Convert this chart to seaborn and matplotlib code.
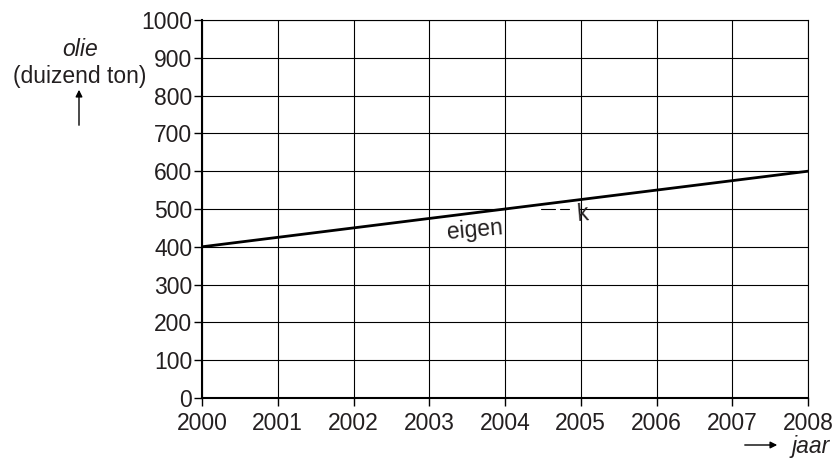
import matplotlib.pyplot as plt
import seaborn as sns
import pandas as pd
from matplotlib.patches import Rectangle

# data
jaren = [2000, 2008]
eigen_verbruik = [400, 600]
x_ticks = list(range(2000, 2009))
y_ticks = list(range(0, 1001, 100))

df = pd.DataFrame({"jaar": jaren, "olie": eigen_verbruik})

sns.set_style("white")
plt.rcParams["font.family"] = ["Liberation Sans", "DejaVu Sans"]

fig = plt.figure(figsize=(8.34, 4.61), dpi=100)
ax = fig.add_axes([202 / 834, 1 - 398 / 461, 606 / 834, 378 / 461])

sns.lineplot(data=df, x="jaar", y="olie", ax=ax, color="black", lw=2, zorder=5)

ax.set_xlim(2000, 2008)
ax.set_ylim(0, 1000)
ax.set_xticks(x_ticks)
ax.set_yticks(y_ticks)
ax.grid(True, color="black", lw=0.8)
ax.set_axisbelow(True)
for s in ax.spines.values():
    s.set_color("black")
    s.set_linewidth(0.8)
ax.spines["left"].set_linewidth(1.5)
ax.spines["bottom"].set_linewidth(1.5)
ax.tick_params(axis="both", direction="out", length=6, width=1, color="black",
               labelsize=16.5, labelcolor="#231f20")
ax.tick_params(axis="y", left=True, pad=1)
ax.tick_params(axis="x", bottom=True, pad=4)
ax.set_xlabel("")
ax.set_ylabel("")

# label with erased middle part
ax.add_patch(Rectangle((2004.03, 490), 0.95, 20, facecolor="white", edgecolor="none", zorder=2))
ax.plot([2004.48, 2004.66], [500, 500], color="black", lw=0.8, zorder=3)
ax.plot([2004.72, 2004.84], [500, 500], color="black", lw=0.8, zorder=3)
ax.text(2003.6, 445, "eigen", fontsize=16.5, rotation=5, ha="center", va="center",
        color="#231f20", zorder=6)
ax.text(2005.03, 487, "k", fontsize=16.5, rotation=5, ha="center", va="center",
        color="#231f20", zorder=6)

# axis titles
fig.text(80 / 834, 1 - 50 / 461, "olie", fontsize=16.5, style="italic", ha="center",
         va="center", color="#231f20")
fig.text(80 / 834, 1 - 77 / 461, "(duizend ton)", fontsize=16.5, ha="center",
         va="center", color="#231f20")
ax.annotate("", xy=(79 / 834, 1 - 87 / 461), xytext=(79 / 834, 1 - 128 / 461),
            xycoords="figure fraction", textcoords="figure fraction",
            arrowprops=dict(arrowstyle="-|>", color="black", lw=1, mutation_scale=10))
fig.text(830 / 834, 1 - 446 / 461, "jaar", fontsize=16.5, style="italic", ha="right",
         va="center", color="#231f20")
ax.annotate("", xy=(780 / 834, 1 - 445 / 461), xytext=(742 / 834, 1 - 445 / 461),
            xycoords="figure fraction", textcoords="figure fraction",
            arrowprops=dict(arrowstyle="-|>", color="black", lw=1, mutation_scale=10))

fig.savefig("out.png", dpi=100)
